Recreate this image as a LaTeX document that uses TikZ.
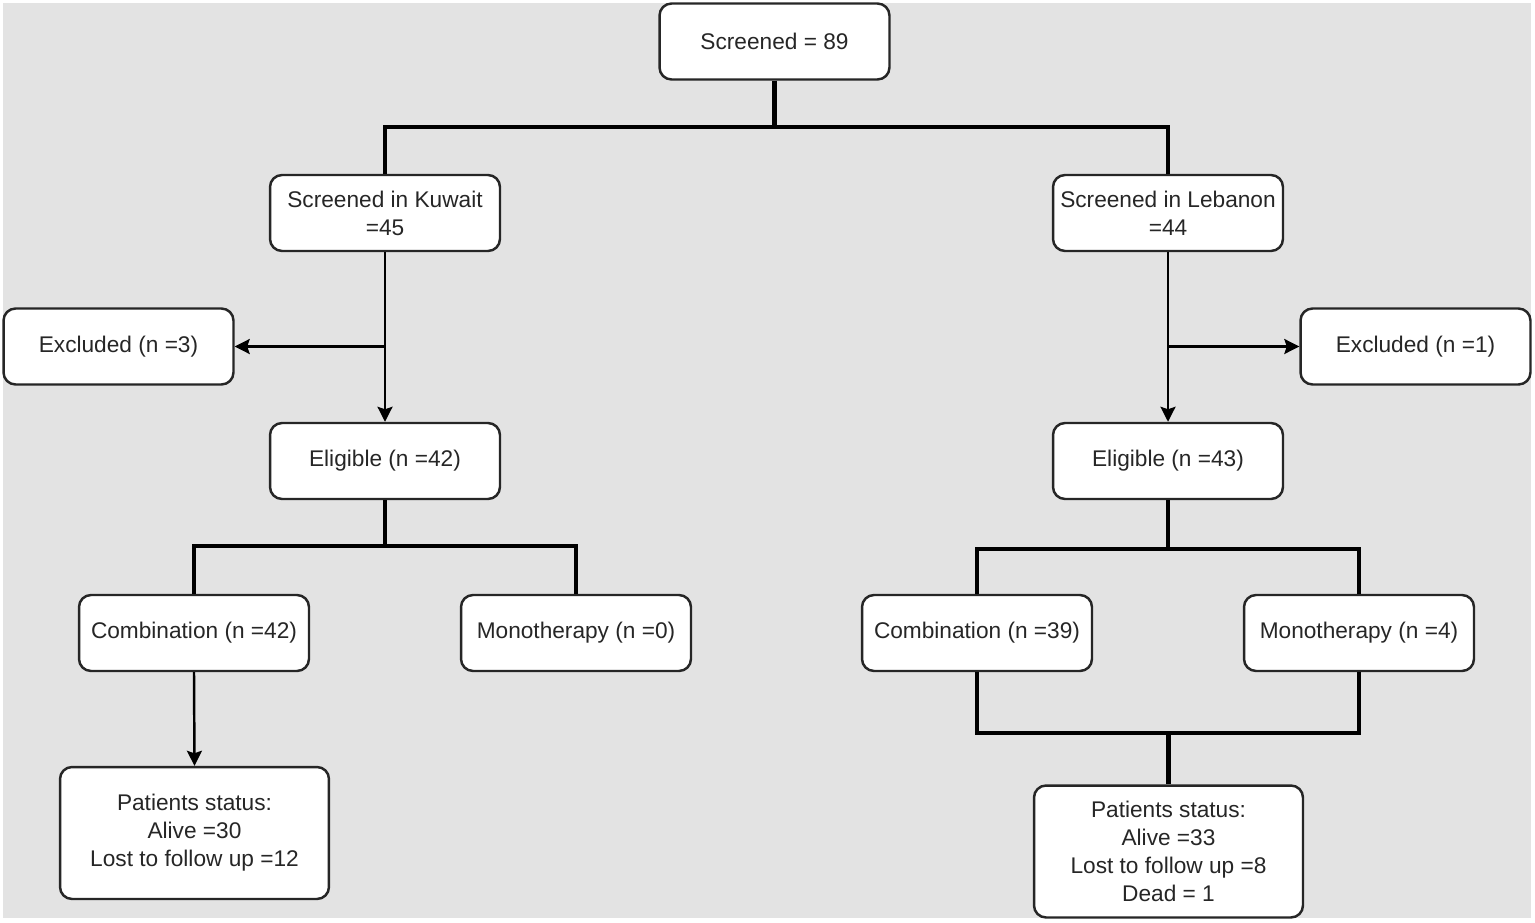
\documentclass[tikz,border=0pt]{standalone}
\usepackage{fontspec}
\setmainfont{Liberation Sans}
\usetikzlibrary{arrows.meta,calc}
\definecolor{bggrey}{RGB}{227,227,227}
\definecolor{inkgrey}{RGB}{38,38,38}

\begin{document}
\begin{tikzpicture}[x=0.02cm,y=-0.02cm,
        box/.style={draw=inkgrey,fill=white,line width=1.4pt,rounded corners=0.24cm,
            minimum width=4.6cm,minimum height=1.52cm,inner sep=0pt,align=center,
            text=inkgrey,font=\fontsize{12.9}{16}\selectfont},
        bigbox/.style={box,minimum width=5.38cm,minimum height=2.64cm},
        trunk/.style={draw=black,line width=2.3pt},
        arr/.style={draw=black,line width=1.4pt,-{Stealth[length=0.3cm,width=0.3cm,inset=0.05cm]}}]
        \useasboundingbox (0,0) rectangle (1535,923);
        \fill[bggrey] (3,3) rectangle (1531,918);

        \node[box] (scr) at (774.5,41.5) {Screened = 89};
        \node[box] (kw) at (385,213) {Screened in Kuwait\\=45};
        \node[box] (lb) at (1168,213) {Screened in Lebanon\\=44};
        \node[box] (ex1) at (118.5,346.5) {Excluded (n =3)};
        \node[box] (ex2) at (1415.5,346.5) {Excluded (n =1)};
        \node[box] (el1) at (385,461) {Eligible (n =42)};
        \node[box] (el2) at (1168,461) {Eligible (n =43)};
        \node[box] (cb1) at (194,633) {Combination (n =42)};
        \node[box] (mo1) at (576,633) {Monotherapy (n =0)};
        \node[box] (cb2) at (977,633) {Combination (n =39)};
        \node[box] (mo2) at (1359,633) {Monotherapy (n =4)};
        \node[bigbox] (pt1) at (194.5,833) {Patients status:\\Alive =30\\Lost to follow up =12};
        \node[bigbox] (pt2) at (1168.5,851.5) {Patients status:\\Alive =33\\Lost to follow up =8\\Dead = 1};

        % top split
        \draw[trunk] (scr.south) -- ++(0,46) coordinate (split) -| (kw.north);
        \draw[trunk] (split) -| (lb.north);

        % Kuwait
        \draw[arr] (kw.south) -- (el1.north);
        \draw[arr] (kw.south |- ex1.east) -- (ex1.east);
        \draw[trunk] (el1.south) -- ++(0,46) coordinate (kwsplit) -| (cb1.north);
        \draw[trunk] (kwsplit) -| (mo1.north);
        \draw[arr] (cb1.south) -- (pt1.north);

        % Lebanon
        \draw[arr] (lb.south) -- (el2.north);
        \draw[arr] (lb.south |- ex2.west) -- (ex2.west);
        \draw[trunk] (el2.south) -- ++(0,49) coordinate (lbsplit) -| (cb2.north);
        \draw[trunk] (lbsplit) -| (mo2.north);
        \draw[trunk] (cb2.south) -- ++(0,61) coordinate (merge) -| (mo2.south);
        \draw[trunk] (merge -| pt2.north) -- (pt2.north);
    \end{tikzpicture}
\end{document}
